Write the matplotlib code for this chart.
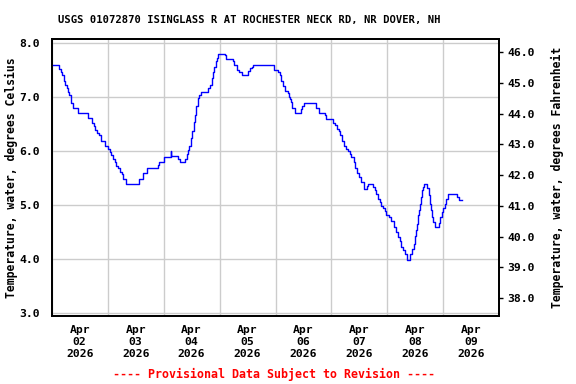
import matplotlib
matplotlib.use("Agg")
import matplotlib.pyplot as plt
import matplotlib.dates as mdates
import numpy as np
import datetime as dt

title = "USGS 01072870 ISINGLASS R AT ROCHESTER NECK RD, NR DOVER, NH"
left_label = "Temperature, water, degrees Celsius"
right_label = "Temperature, water, degrees Fahrenheit"
footer = "---- Provisional Data Subject to Revision ----"

# hours since 2026-04-02 00:00 (step starts) and water temperature (deg C)
hours = [0.0, 3.26, 3.86, 4.54, 5.27, 5.83, 6.43, 6.99, 7.54, 8.14, 8.40, 9.26, 11.27,
         15.69, 17.40, 18.0, 18.69, 19.54, 20.40, 21.26, 22.97, 24.26, 24.99, 25.54,
         26.40, 27.13, 27.69, 28.54, 29.27, 30.0, 30.69, 31.71, 37.54, 39.26, 40.97,
         45.43, 45.99, 48.26, 51.13, 51.26, 54.26, 54.99, 57.13, 57.86, 58.54, 58.97,
         59.57, 60.26, 60.86, 61.41, 61.97, 62.57, 63.13, 63.86, 67.11, 67.84, 68.57,
         69.13, 69.69, 70.29, 70.97, 71.40, 74.27, 74.70, 77.57, 78.13, 79.54, 80.40,
         81.43, 84.26, 84.99, 85.97, 86.40, 95.40, 97.11, 97.84, 98.57, 99.26, 99.99,
         101.40, 101.83, 102.43, 102.86, 103.29, 104.57, 106.84, 107.57, 108.26,
         113.57, 114.56, 117.13, 117.56, 120.69, 121.41, 122.40, 123.13, 123.86,
         124.54, 125.27, 126.43, 127.11, 127.84, 128.57, 129.56, 130.29, 130.97,
         131.70, 132.56, 133.84, 135.26, 135.69, 137.83, 138.56, 139.29, 139.97,
         140.70, 141.43, 142.11, 142.84, 143.57, 144.56, 145.71, 146.83, 147.86,
         148.54, 149.27, 150.0, 150.69, 151.71, 152.40, 153.86, 154.71, 155.27,
         155.70, 156.13, 156.69, 157.11, 157.54, 157.97, 158.40, 158.83, 159.26,
         159.69, 161.14, 161.70, 162.13, 162.56, 163.11, 163.71, 164.27, 166.11,
         166.71, 167.27, 167.83, 168.56, 169.29, 169.97, 174.0, 174.56, 176.14]
temps = [7.60, 7.52, 7.47, 7.41, 7.30, 7.22, 7.16, 7.10, 7.03, 6.96, 6.89, 6.80, 6.71,
         6.61, 6.51, 6.46, 6.39, 6.33, 6.29, 6.18, 6.10, 6.03, 5.99, 5.92,
         5.86, 5.79, 5.73, 5.68, 5.61, 5.58, 5.49, 5.39, 5.49, 5.60, 5.69,
         5.75, 5.79, 5.89, 6.00, 5.90, 5.86, 5.80, 5.86, 5.95, 6.01, 6.10,
         6.25, 6.38, 6.53, 6.66, 6.84, 6.98, 7.03, 7.09, 7.16, 7.22, 7.36,
         7.46, 7.55, 7.67, 7.73, 7.80, 7.77, 7.70, 7.66, 7.60, 7.51, 7.46,
         7.41, 7.49, 7.53, 7.56, 7.59, 7.51, 7.46, 7.40, 7.30, 7.21, 7.12,
         7.07, 7.01, 6.96, 6.90, 6.80, 6.71, 6.77, 6.84, 6.89,
         6.80, 6.71, 6.66, 6.60, 6.52, 6.49, 6.41, 6.37, 6.30,
         6.19, 6.10, 6.04, 6.00, 5.95, 5.89, 5.79, 5.69, 5.59,
         5.52, 5.42, 5.30, 5.35, 5.39, 5.33, 5.27, 5.20, 5.12,
         5.05, 4.99, 4.95, 4.89, 4.81, 4.78, 4.70, 4.59, 4.50,
         4.40, 4.33, 4.22, 4.16, 4.10, 3.99, 4.10, 4.19, 4.28,
         4.42, 4.53, 4.64, 4.81, 4.90, 5.02, 5.15, 5.27, 5.33,
         5.39, 5.32, 5.18, 5.02, 4.90, 4.78, 4.68, 4.60, 4.66,
         4.78, 4.87, 4.95, 5.02, 5.12, 5.20, 5.15, 5.10, 5.10]

c_ticks = [3.0, 4.0, 5.0, 6.0, 7.0, 8.0]
f_ticks = [38.0, 39.0, 40.0, 41.0, 42.0, 43.0, 44.0, 45.0, 46.0]

start = dt.datetime(2026, 4, 2)
times = [start + dt.timedelta(hours=h) for h in hours]

font = "DejaVu Sans Mono"
plt.rcParams["font.family"] = font
plt.rcParams["font.weight"] = "bold"

fig = plt.figure(figsize=(5.76, 3.84), dpi=100)
ax = fig.add_axes([0.0898, 0.1779, 0.7770, 0.7198])
ax.plot(times, temps, color="#0000ff", lw=1.0, drawstyle="steps-post", zorder=3)

ax.set_xlim(start, start + dt.timedelta(days=8))
ax.set_ylim(2.95, 8.07)
ax.set_yticks(c_ticks)
ax.set_yticklabels([f"{v:.1f}" for v in c_ticks], fontsize=8.2, fontweight="bold")
ax.tick_params(axis="y", length=0, pad=8.5)

ax.xaxis.set_major_locator(mdates.DayLocator())
ax.xaxis.set_major_formatter(plt.NullFormatter())
ax.xaxis.set_minor_locator(mdates.HourLocator(byhour=[12]))
ax.xaxis.set_minor_formatter(mdates.DateFormatter("%b\n%d\n%Y"))
ax.tick_params(axis="x", which="both", length=0)
ax.tick_params(axis="x", which="minor", pad=7)
for lab in ax.xaxis.get_minorticklabels():
    lab.set_fontsize(8.2)
    lab.set_fontweight("bold")
    lab.set_linespacing(1.2)

ax.grid(True, which="major", color="#cccccc", lw=1.0, zorder=0)
for s in ax.spines.values():
    s.set_linewidth(1.3)
    s.set_color("black")

ax.set_ylabel(left_label, fontsize=8.3, fontweight="bold")
ax.yaxis.set_label_coords((18 - 51.7) / 447.6, 0.5)

ax2 = ax.twinx()
ax2.set_ylim(37.43, 46.42)
ax2.set_yticks(f_ticks)
ax2.set_yticklabels([f"{v:.1f}" for v in f_ticks], fontsize=8.2, fontweight="bold")
ax2.tick_params(axis="y", length=3, width=1, pad=3, direction="out")
ax2.set_ylabel(right_label, fontsize=8.3, fontweight="bold", rotation=90)
ax2.yaxis.set_label_coords((551 - 51.7) / 447.6, 0.5)
for s in ax2.spines.values():
    s.set_linewidth(1.3)

fig.text(249.3 / 576, 1 - 20 / 384, title, ha="center", va="center",
         fontsize=7.6, fontweight="bold", color="black")
fig.text(274 / 576, 1 - 374.5 / 384, footer, ha="center", va="center",
         fontsize=8.4, fontweight="bold", color="#ff0000")

fig.savefig("out.png", dpi=100)
